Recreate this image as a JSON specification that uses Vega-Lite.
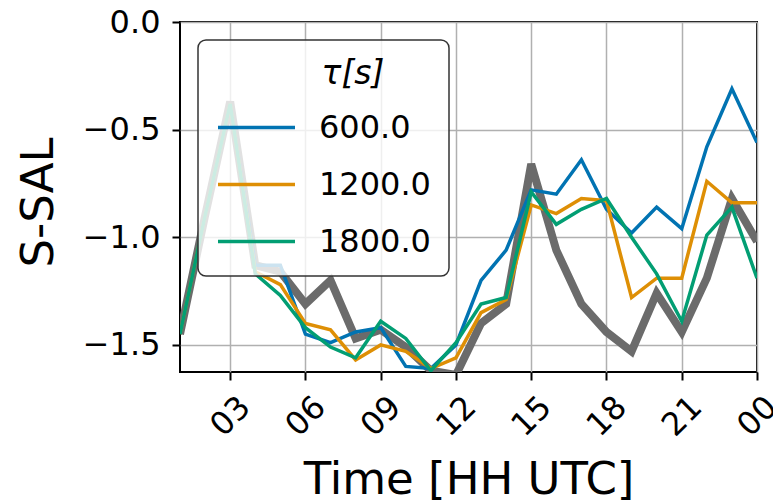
{
  "$schema": "https://vega.github.io/schema/vega-lite/v6.json",
  "width": 577,
  "height": 350,
  "autosize": "none",
  "padding": {"left": 180, "top": 22, "right": 16, "bottom": 130},
  "background": "white",
  "config": {
    "font": "DejaVu Sans",
    "view": {"stroke": "black", "strokeWidth": 2},
    "axis": {
      "grid": true,
      "gridColor": "#b0b0b0",
      "gridWidth": 1.5,
      "gridOpacity": 1,
      "domain": false,
      "tickColor": "black",
      "tickWidth": 2,
      "tickSize": 8,
      "labelFont": "DejaVu Sans",
      "labelFontSize": 32,
      "labelColor": "black",
      "titleFont": "DejaVu Sans",
      "titleFontSize": 45,
      "titleFontWeight": "normal",
      "titleColor": "black"
    }
  },
  "data": {
    "values": [
      {"hour": 1, "tau": "obs", "value": -1.45},
      {"hour": 2, "tau": "obs", "value": -0.9},
      {"hour": 3, "tau": "obs", "value": -0.37},
      {"hour": 4, "tau": "obs", "value": -1.13},
      {"hour": 5, "tau": "obs", "value": -1.16},
      {"hour": 6, "tau": "obs", "value": -1.31},
      {"hour": 7, "tau": "obs", "value": -1.2},
      {"hour": 8, "tau": "obs", "value": -1.47},
      {"hour": 9, "tau": "obs", "value": -1.43},
      {"hour": 10, "tau": "obs", "value": -1.51},
      {"hour": 11, "tau": "obs", "value": -1.62},
      {"hour": 12, "tau": "obs", "value": -1.64},
      {"hour": 13, "tau": "obs", "value": -1.4},
      {"hour": 14, "tau": "obs", "value": -1.31},
      {"hour": 15, "tau": "obs", "value": -0.66},
      {"hour": 16, "tau": "obs", "value": -1.06},
      {"hour": 17, "tau": "obs", "value": -1.31},
      {"hour": 18, "tau": "obs", "value": -1.44},
      {"hour": 19, "tau": "obs", "value": -1.53},
      {"hour": 20, "tau": "obs", "value": -1.26},
      {"hour": 21, "tau": "obs", "value": -1.44},
      {"hour": 22, "tau": "obs", "value": -1.19},
      {"hour": 23, "tau": "obs", "value": -0.82},
      {"hour": 24, "tau": "obs", "value": -1.02},

      {"hour": 1, "tau": "600.0", "value": -1.45},
      {"hour": 2, "tau": "600.0", "value": -0.9},
      {"hour": 3, "tau": "600.0", "value": -0.38},
      {"hour": 4, "tau": "600.0", "value": -1.13},
      {"hour": 5, "tau": "600.0", "value": -1.13},
      {"hour": 6, "tau": "600.0", "value": -1.45},
      {"hour": 7, "tau": "600.0", "value": -1.49},
      {"hour": 8, "tau": "600.0", "value": -1.44},
      {"hour": 9, "tau": "600.0", "value": -1.42},
      {"hour": 10, "tau": "600.0", "value": -1.6},
      {"hour": 11, "tau": "600.0", "value": -1.61},
      {"hour": 12, "tau": "600.0", "value": -1.5},
      {"hour": 13, "tau": "600.0", "value": -1.2},
      {"hour": 14, "tau": "600.0", "value": -1.06},
      {"hour": 15, "tau": "600.0", "value": -0.78},
      {"hour": 16, "tau": "600.0", "value": -0.8},
      {"hour": 17, "tau": "600.0", "value": -0.64},
      {"hour": 18, "tau": "600.0", "value": -0.87},
      {"hour": 19, "tau": "600.0", "value": -0.98},
      {"hour": 20, "tau": "600.0", "value": -0.86},
      {"hour": 21, "tau": "600.0", "value": -0.96},
      {"hour": 22, "tau": "600.0", "value": -0.58},
      {"hour": 23, "tau": "600.0", "value": -0.31},
      {"hour": 24, "tau": "600.0", "value": -0.56},

      {"hour": 1, "tau": "1200.0", "value": -1.45},
      {"hour": 2, "tau": "1200.0", "value": -0.9},
      {"hour": 3, "tau": "1200.0", "value": -0.38},
      {"hour": 4, "tau": "1200.0", "value": -1.16},
      {"hour": 5, "tau": "1200.0", "value": -1.22},
      {"hour": 6, "tau": "1200.0", "value": -1.4},
      {"hour": 7, "tau": "1200.0", "value": -1.43},
      {"hour": 8, "tau": "1200.0", "value": -1.57},
      {"hour": 9, "tau": "1200.0", "value": -1.5},
      {"hour": 10, "tau": "1200.0", "value": -1.53},
      {"hour": 11, "tau": "1200.0", "value": -1.61},
      {"hour": 12, "tau": "1200.0", "value": -1.56},
      {"hour": 13, "tau": "1200.0", "value": -1.35},
      {"hour": 14, "tau": "1200.0", "value": -1.29},
      {"hour": 15, "tau": "1200.0", "value": -0.85},
      {"hour": 16, "tau": "1200.0", "value": -0.89},
      {"hour": 17, "tau": "1200.0", "value": -0.82},
      {"hour": 18, "tau": "1200.0", "value": -0.83},
      {"hour": 19, "tau": "1200.0", "value": -1.28},
      {"hour": 20, "tau": "1200.0", "value": -1.19},
      {"hour": 21, "tau": "1200.0", "value": -1.19},
      {"hour": 22, "tau": "1200.0", "value": -0.74},
      {"hour": 23, "tau": "1200.0", "value": -0.84},
      {"hour": 24, "tau": "1200.0", "value": -0.84},

      {"hour": 1, "tau": "1800.0", "value": -1.45},
      {"hour": 2, "tau": "1800.0", "value": -0.9},
      {"hour": 3, "tau": "1800.0", "value": -0.38},
      {"hour": 4, "tau": "1800.0", "value": -1.17},
      {"hour": 5, "tau": "1800.0", "value": -1.27},
      {"hour": 6, "tau": "1800.0", "value": -1.42},
      {"hour": 7, "tau": "1800.0", "value": -1.51},
      {"hour": 8, "tau": "1800.0", "value": -1.56},
      {"hour": 9, "tau": "1800.0", "value": -1.39},
      {"hour": 10, "tau": "1800.0", "value": -1.47},
      {"hour": 11, "tau": "1800.0", "value": -1.62},
      {"hour": 12, "tau": "1800.0", "value": -1.49},
      {"hour": 13, "tau": "1800.0", "value": -1.31},
      {"hour": 14, "tau": "1800.0", "value": -1.28},
      {"hour": 15, "tau": "1800.0", "value": -0.79},
      {"hour": 16, "tau": "1800.0", "value": -0.94},
      {"hour": 17, "tau": "1800.0", "value": -0.87},
      {"hour": 18, "tau": "1800.0", "value": -0.82},
      {"hour": 19, "tau": "1800.0", "value": -1.0},
      {"hour": 20, "tau": "1800.0", "value": -1.17},
      {"hour": 21, "tau": "1800.0", "value": -1.39},
      {"hour": 22, "tau": "1800.0", "value": -0.99},
      {"hour": 23, "tau": "1800.0", "value": -0.86},
      {"hour": 24, "tau": "1800.0", "value": -1.19}
    ]
  },
  "encoding": {
    "x": {
      "field": "hour",
      "type": "quantitative",
      "scale": {"domain": [1, 24], "nice": false, "zero": false},
      "axis": {
        "values": [3, 6, 9, 12, 15, 18, 21, 24],
        "labelExpr": "datum.value >= 24 ? '00' : (datum.value < 10 ? '0' + datum.value : '' + datum.value)",
        "labelAngle": -45,
        "labelAlign": "center",
        "labelBaseline": "middle",
        "labelPadding": 36,
        "title": "Time [HH UTC]",
        "titleY": 121,
        "titleBaseline": "alphabetic"
      }
    },
    "y": {
      "field": "value",
      "type": "quantitative",
      "scale": {"domain": [-1.626, 0], "nice": false, "zero": false},
      "axis": {
        "values": [0, -0.5, -1, -1.5],
        "format": ".1f",
        "labelPadding": 12,
        "title": "S-SAL",
        "titleAngle": -90,
        "titleX": -128,
        "titleY": 180,
        "titleAlign": "center",
        "titleBaseline": "alphabetic"
      }
    }
  },
  "layer": [
    {
      "transform": [{"filter": "datum.tau == 'obs'"}],
      "mark": {"type": "line", "color": "#6b6b6b", "strokeWidth": 8, "clip": true}
    },
    {
      "transform": [{"filter": "datum.tau != 'obs'"}],
      "mark": {"type": "line", "strokeWidth": 3.5, "clip": true},
      "encoding": {
        "color": {
          "field": "tau",
          "type": "nominal",
          "sort": ["600.0", "1200.0", "1800.0"],
          "scale": {"domain": ["600.0", "1200.0", "1800.0"], "range": ["#0173B2", "#DE8F05", "#029E73"]},
          "legend": {
            "orient": "none",
            "legendX": 18,
            "legendY": 18,
            "title": "τ[s]",
            "titleFont": "DejaVu Sans",
            "titleFontSize": 33,
            "titleFontWeight": "normal",
            "titleFontStyle": "italic",
            "titleColor": "black",
            "titleAnchor": "middle",
            "titlePadding": -4,
            "labelFont": "DejaVu Sans",
            "labelFontSize": 32,
            "labelColor": "black",
            "labelOffset": 22,
            "symbolType": "stroke",
            "symbolSize": 5929,
            "symbolStrokeWidth": 3.5,
            "rowPadding": 0,
            "padding": 18,
            "fillColor": "rgba(255,255,255,0.8)",
            "strokeColor": "#333333",
            "cornerRadius": 8,
            "encode": {
              "legend": {"update": {"strokeWidth": {"value": 1.5}}},
              "title": {"update": {"dx": {"value": 30}}}
            }
          }
        }
      }
    }
  ]
}
